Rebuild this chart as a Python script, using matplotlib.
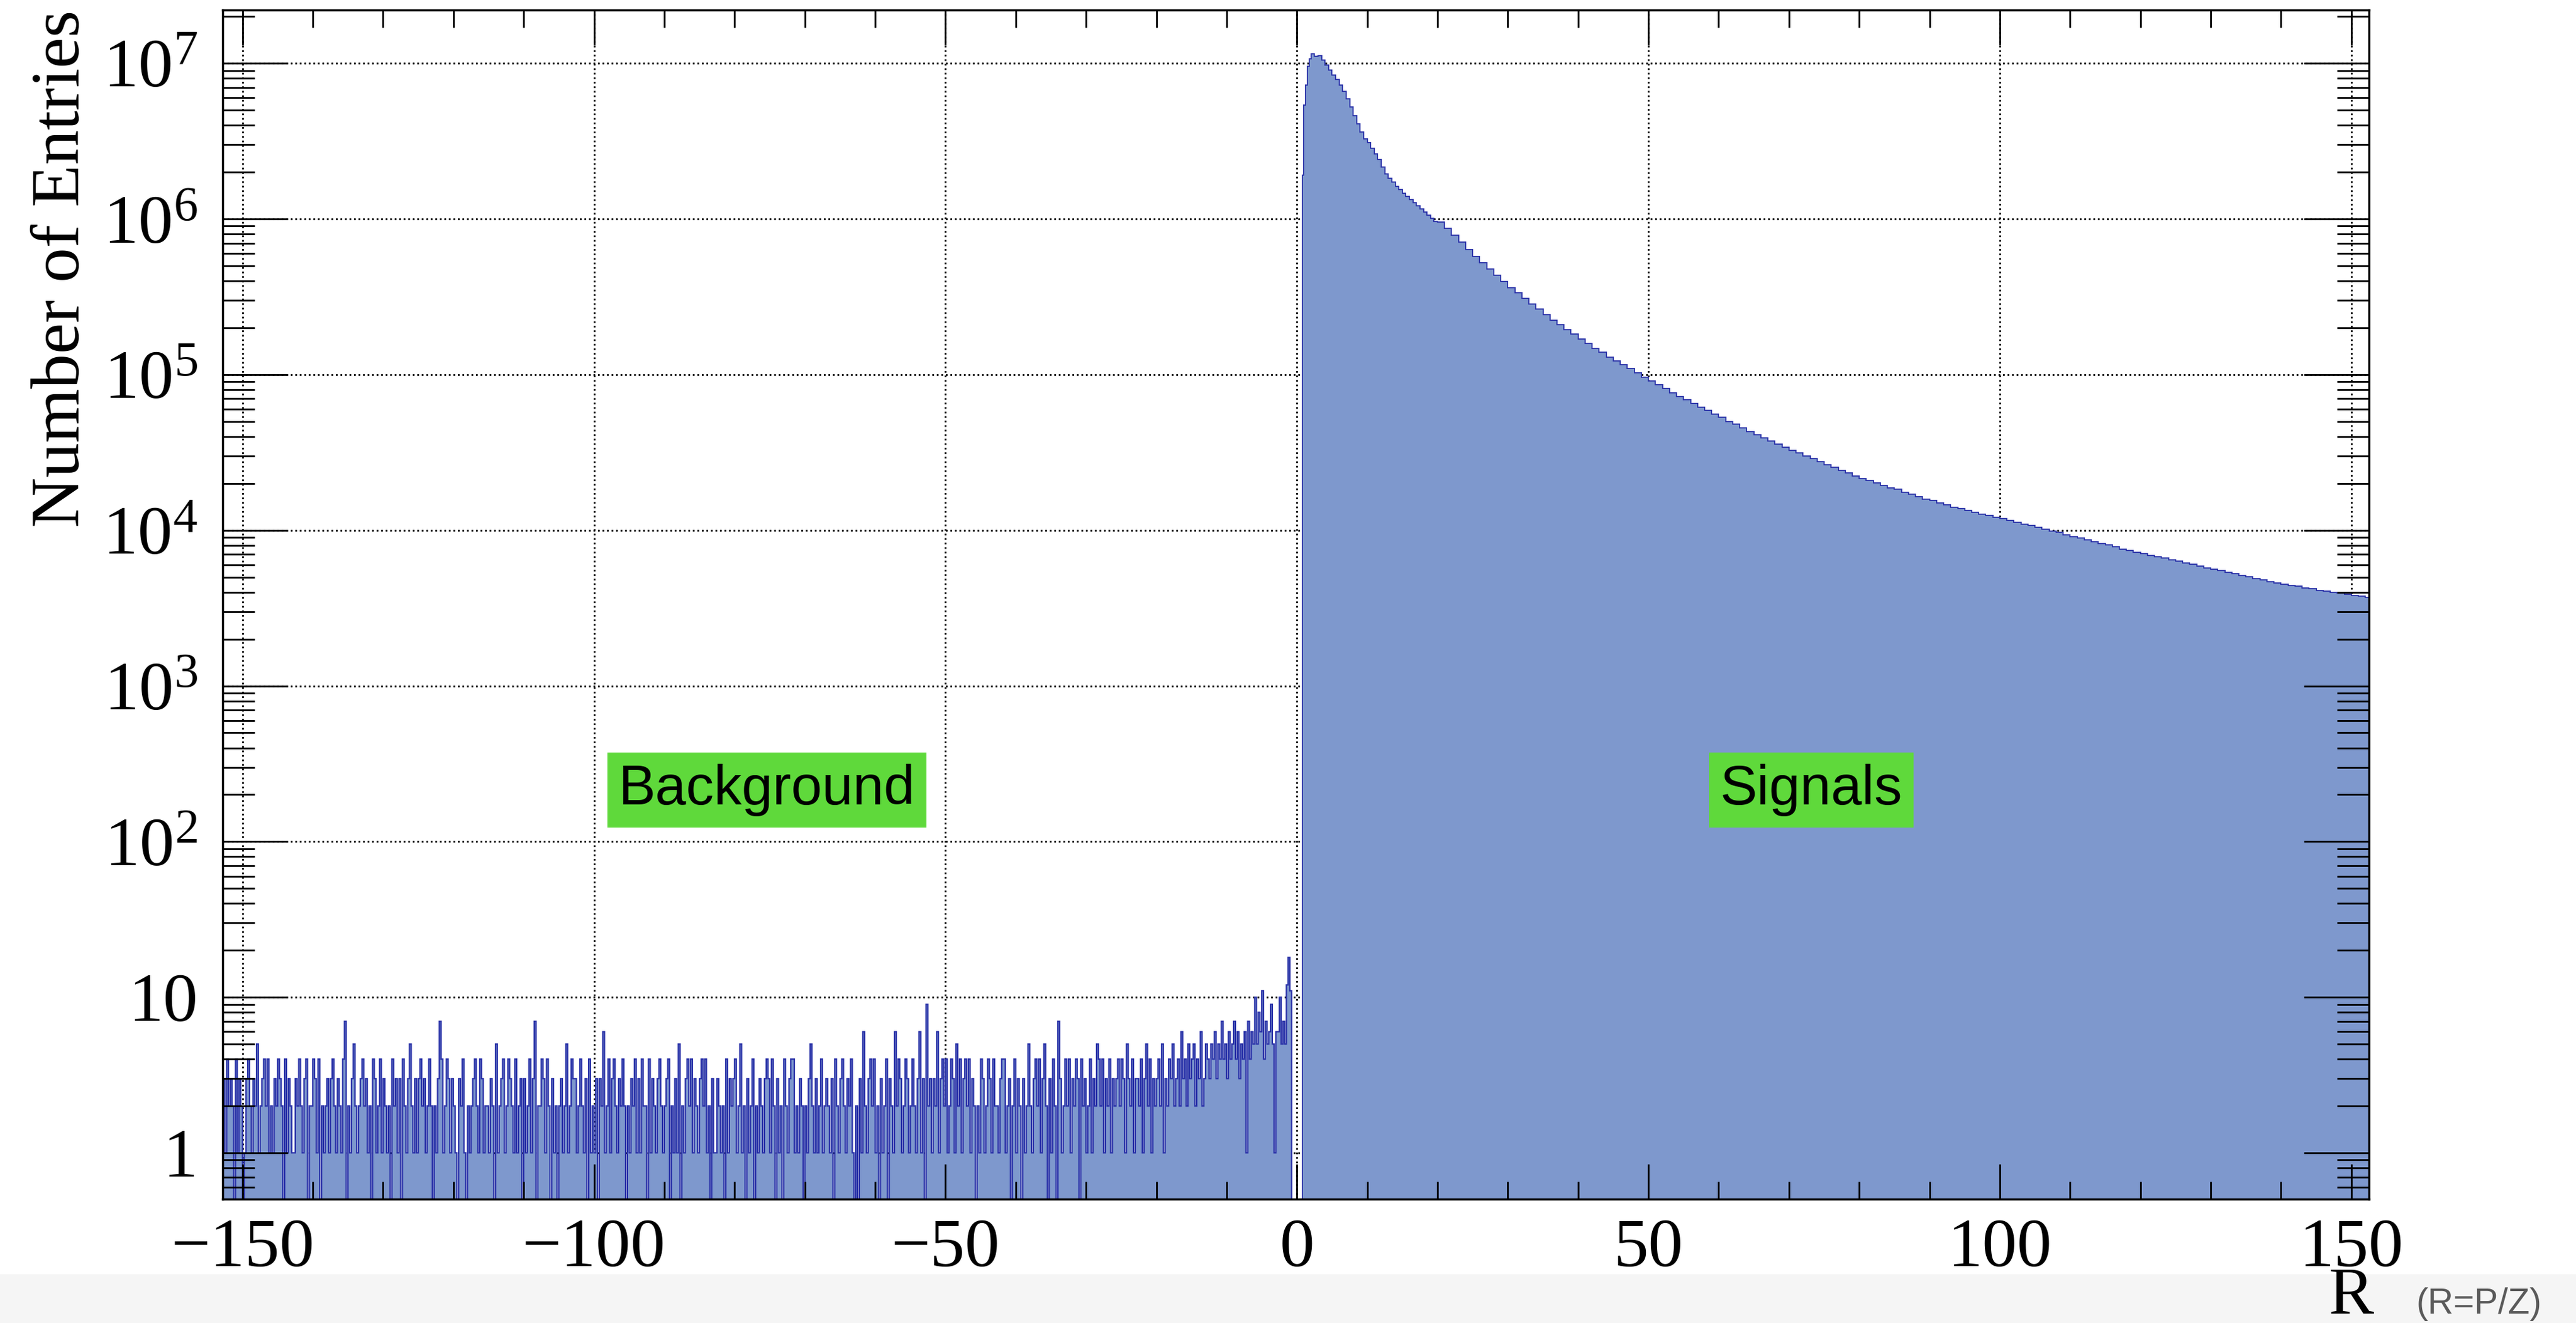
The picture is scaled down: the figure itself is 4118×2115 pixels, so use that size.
import matplotlib.pyplot as plt
import numpy as np
from matplotlib.patches import Rectangle
from matplotlib.ticker import FuncFormatter, LogLocator, MultipleLocator, NullFormatter

plt.rcParams['font.family'] = 'Liberation Serif'
plt.rcParams['mathtext.fontset'] = 'custom'
plt.rcParams['mathtext.rm'] = 'Liberation Serif'

BIN_WIDTH = 0.25
BG_START = -152.75

# background counts, one hex digit per 0.25 bin, from -152.75 to -2.75
background_digits = (
    "3142320413" "2013421325" "1234241213" "2432041321"
    "1324213402" "2431402123" "1342132147" "0213521234"
    "2312043124" "1321204231" "3042135213" "1342312420"
    "2137412431" "3210324102" "1234214312" "2132051234"
    "1243214123" "0312413702" "2431420312" "0231251243"
    "3124213041" "2130326124" "1342132420" "2132413142"
    "2041321342" "1234021315" "0213424132" "1342412031"
    "1321204132" "3412512031" "2402132134" "3142031204"
    "2134412132" "0213521312" "4123213042" "1342132410"
    "2031621342" "4120312403" "2162431243" "1242136130"
    "9231326134" "2412431524" "1342413202" "1431243142"
    "2134412302" "4132031252" "1342413520" "3142073124"
    "2413243042" "3124132542" "4132413234" "2431532413"
    "3241352413" "2342513243" "5234263425" "3452436235"
    "4354635474" "5364574635" "4617465a58" "6b47569516"
)
# last bins before zero, -2.75 to -0.75
near_zero_counts = [6, 10, 5, 7, 5, 12, 18, 11]

# signal side: 0.75-2.0 in 0.25 bins, 2-20 in 0.5 bins, 20-153 in 1.0 bins
signal_quarter_counts = [1.905e6, 5.37e6, 7.24e6, 9.55e6, 1.072e7]
signal_half_counts = [
    1.148e7, 1.109e7, 1.122e7, 1.047e7, 9.77e6, 9.02e6, 8.41e6, 7.85e6,
    7.24e6, 6.61e6, 5.89e6, 5.25e6, 4.62e6, 4.07e6, 3.63e6, 3.27e6,
    3.09e6, 2.85e6, 2.63e6, 2.40e6, 2.16e6, 1.95e6, 1.82e6, 1.72e6, 1.62e6, 1.55e6,
    1.46e6, 1.40e6, 1.33e6, 1.27e6, 1.22e6, 1.16e6, 1.11e6, 1.06e6, 1.01e6, 9.66e5,
]
signal_unit_counts = [
    9.55e5, 8.71e5, 7.85e5, 7.08e5, 6.38e5, 5.75e5, 5.25e5, 4.79e5, 4.37e5, 3.98e5,
    3.63e5, 3.35e5, 3.09e5, 2.85e5, 2.63e5, 2.43e5, 2.24e5, 2.09e5, 1.95e5, 1.82e5,
    1.70e5, 1.585e5, 1.48e5, 1.40e5, 1.30e5, 1.23e5, 1.16e5, 1.096e5, 1.023e5, 9.66e4,
    9.12e4, 8.61e4, 8.13e4, 7.67e4, 7.24e4, 6.92e4, 6.53e4, 6.17e4, 5.89e4, 5.56e4,
    5.31e4, 5.01e4, 4.79e4, 4.57e4, 4.32e4, 4.12e4, 3.94e4, 3.76e4, 3.59e4, 3.43e4,
    3.27e4, 3.13e4, 2.99e4, 2.90e4, 2.75e4, 2.63e4, 2.54e4, 2.43e4, 2.34e4, 2.24e4,
    2.16e4, 2.09e4, 2.02e4, 1.95e4, 1.88e4, 1.83e4, 1.76e4, 1.70e4, 1.64e4, 1.585e4,
    1.55e4, 1.50e4, 1.46e4, 1.41e4, 1.38e4, 1.34e4, 1.30e4, 1.27e4, 1.245e4, 1.215e4,
    1.19e4, 1.16e4, 1.12e4, 1.096e4, 1.07e4, 1.047e4, 1.012e4, 9.89e3, 9.66e3, 9.33e3,
    9.12e3, 8.91e3, 8.71e3, 8.41e3, 8.22e3, 8.04e3, 7.85e3, 7.59e3, 7.41e3, 7.24e3,
    7.08e3, 6.92e3, 6.76e3, 6.61e3, 6.46e3, 6.31e3, 6.17e3, 6.03e3, 5.89e3, 5.75e3,
    5.62e3, 5.50e3, 5.37e3, 5.25e3, 5.13e3, 5.01e3, 4.90e3, 4.79e3, 4.68e3, 4.57e3,
    4.52e3, 4.42e3, 4.37e3, 4.27e3, 4.22e3, 4.12e3, 4.07e3, 3.98e3, 3.94e3, 3.89e3,
    3.80e3, 3.76e3, 3.72e3,
]

x_major_ticks = [-150, -100, -50, 0, 50, 100, 150]
y_decades = [1, 10, 1e2, 1e3, 1e4, 1e5, 1e6, 1e7]

FILL_COLOR = '#7e98cd'
LINE_COLOR = '#2a32a8'
LABEL_GREEN = '#5fd93b'


def _background():
    bg = np.array([int(c, 16) for c in background_digits] + near_zero_counts, dtype=float)
    edges = BG_START + BIN_WIDTH * np.arange(len(bg) + 1)
    return edges, bg


def _signal():
    q_edges = 0.75 + 0.25 * np.arange(len(signal_quarter_counts))
    h_edges = 2.0 + 0.5 * np.arange(len(signal_half_counts))
    u_edges = 20.0 + np.arange(len(signal_unit_counts) + 1)
    edges = np.concatenate([q_edges, h_edges, u_edges])
    counts = np.array(signal_quarter_counts + signal_half_counts + signal_unit_counts)
    return edges, counts


def _log_label(v, pos):
    exp = int(round(np.log10(v)))
    if exp == 0:
        return '1'
    if exp == 1:
        return '10'
    return r'$\mathregular{10^{%d}}$' % exp


def _r_savefig():
    bg_edges, bg_counts = _background()
    sig_edges, sig_counts = _signal()
    # empty bins sit below the frame so their outline drops off the bottom
    bg_shown = np.maximum(bg_counts, 0.3)

    fig = plt.figure(figsize=(41.18, 21.15), dpi=100)
    fig.patches.append(Rectangle((0, 0), 1, 0.037, transform=fig.transFigure,
                                 facecolor='#f5f5f5', edgecolor='none', zorder=-5))
    ax = fig.add_axes([0.0865, 0.0936, 0.8331, 0.8988])

    ax.set_yscale('log')
    ax.set_xlim(-152.8, 152.5)
    ax.set_ylim(0.504, 2.2e7)

    # dotted grid kept underneath the histogram
    for x in x_major_ticks:
        ax.axvline(x, color='black', lw=2.0, ls=(0, (1, 1.6)), zorder=0.5)
    for y in y_decades:
        ax.axhline(y, color='black', lw=2.0, ls=(0, (1, 1.6)), zorder=0.5)

    ax.stairs(bg_shown, bg_edges, baseline=0.3, fill=True, color=FILL_COLOR, lw=0, zorder=1)
    ax.stairs(sig_counts, sig_edges, baseline=0.3, fill=True, color=FILL_COLOR, lw=0, zorder=1)
    ax.stairs(bg_shown, bg_edges, baseline=0.3, fill=False, color=LINE_COLOR,
              lw=1.6, zorder=1.5)
    ax.stairs(sig_counts, sig_edges, baseline=0.3, fill=False, color=LINE_COLOR,
              lw=1.3, zorder=1.5)

    ax.set_axisbelow(False)
    ax.set_xticks(x_major_ticks)
    ax.xaxis.set_minor_locator(MultipleLocator(10))
    ax.yaxis.set_major_locator(LogLocator(base=10, numticks=20))
    ax.yaxis.set_minor_locator(LogLocator(base=10, subs=np.arange(2, 10), numticks=20))
    ax.yaxis.set_major_formatter(FuncFormatter(_log_label))
    ax.yaxis.set_minor_formatter(NullFormatter())

    ax.tick_params(which='both', direction='in', top=True, right=True,
                   width=2, labelsize=80)
    ax.tick_params(axis='x', which='major', length=40, pad=22)
    ax.tick_params(axis='x', which='minor', length=20)
    ax.tick_params(axis='y', which='major', length=75, pad=29)
    ax.tick_params(axis='y', which='minor', length=37)
    for spine in ax.spines.values():
        spine.set_linewidth(2.5)

    ax.set_ylabel('Number of Entries', fontsize=80, loc='top')
    ax.yaxis.set_label_coords(-0.0603, 1.0)

    box = dict(boxstyle='square,pad=0.2', facecolor=LABEL_GREEN, edgecolor='none')
    ax.text(-75.4, 214, 'Background', ha='center', va='center', fontsize=64,
            family='Liberation Sans', bbox=box, zorder=3)
    ax.text(73.2, 214, 'Signals', ha='center', va='center', fontsize=64,
            family='Liberation Sans', bbox=box, zorder=3)

    fig.text(0.9215, 0.0071, 'R', ha='right', va='baseline', fontsize=78)
    fig.text(0.938, 0.0071, '(R=P/Z)', ha='left', va='baseline', fontsize=41,
             family='Liberation Sans', color='#5a5a5a')

    fig.savefig('out.png', dpi=100)


_r_savefig()
